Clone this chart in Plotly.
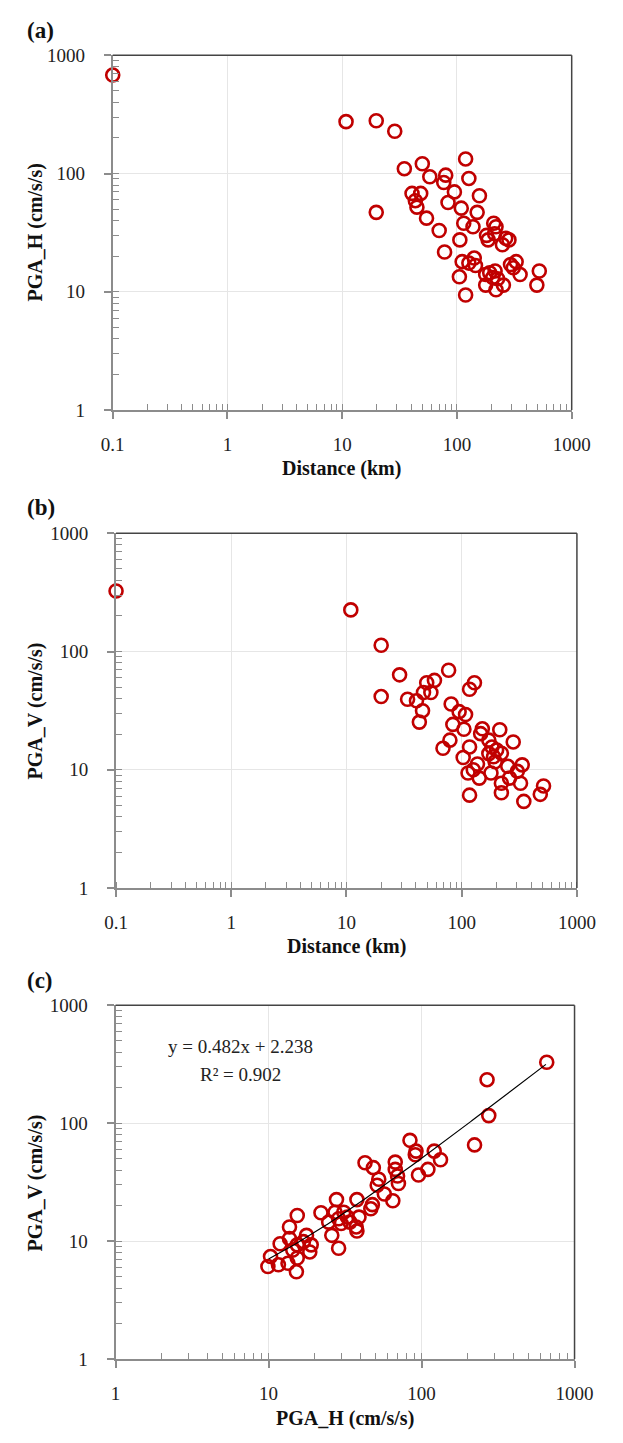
import numpy as np
import plotly.graph_objects as go

# ---------------- data ----------------
a_dist = [0.1, 10.8, 19.8, 28.7, 34.8, 49.9, 58, 79.8, 76.7, 119, 127, 40.6, 48.3, 43.4, 44.8,
          54.3, 19.8, 83.6, 95, 109, 157, 150, 70, 114.6, 138, 209, 219, 181, 187, 213,
          266, 284, 249, 106, 78, 111, 127, 141.5, 145, 105, 119, 178, 193, 215, 205,
          226, 178, 219, 254, 293, 328, 310, 355, 522, 497]
a_pgah = [681, 275, 280, 228, 110, 121, 94, 97, 84, 133, 91, 68, 68, 59, 52,
          42, 47, 57, 70, 51, 65, 47, 33, 38, 35.5, 38, 35.5, 30, 27.5, 31,
          28.4, 27.5, 25, 27.5, 21.7, 18, 17.5, 19.3, 16.7, 13.4, 9.4, 14, 14.5, 15, 13.2,
          12.9, 11.4, 10.4, 11.4, 17, 18, 16, 14, 15, 11.4]

b_dist = [0.1, 10.9, 20, 28.9, 20, 77, 49.7, 58, 54, 46.6, 33.9, 40.5, 45.7, 42.9, 129,
          117, 81, 95, 108, 83.8, 104.5, 79, 68.8, 117, 151, 146, 214, 280, 172, 183,
          201, 189, 221, 103, 137, 113.5, 126, 142, 179.5, 251, 335, 304, 260, 324, 221,
          221, 117, 346, 513, 481, 172, 195]
b_pgav = [325, 225, 113, 63.5, 41.6, 69.5, 54.5, 57, 45, 45, 39.5, 38.3, 31.6, 25.3, 54.5,
          48, 36, 31, 29.3, 24.2, 22, 17.8, 15.2, 15.6, 22.2, 20.2, 21.8, 17.2, 17.8, 15.6,
          14.7, 12.9, 13.8, 12.7, 11.2, 9.4, 10, 8.5, 9.4, 10.7, 11, 9.7, 8.5, 7.7, 7.7,
          6.4, 6.1, 5.4, 7.3, 6.2, 13.7, 11.7]

c_pgah = [658, 268, 275, 222, 84, 92, 91, 121, 133, 110, 95.5, 42.7, 48.4, 67.3, 67.3,
          52.5, 51.3, 70.6, 57.1, 64.9, 47.7, 37.8, 27.8, 22, 27.2, 31, 39, 34, 37.4, 37.8,
          28.7, 25.9, 28.7, 15.4, 13.7, 11.9, 17.7, 16.9, 19, 18.6, 15.4, 14.4, 10.3, 11.6,
          9.9, 13.4, 15.4, 15.2, 13.7, 24.7, 29.8, 32.7, 69.7, 46.6]
c_pgav = [329, 234, 116, 65.5, 71.6, 58, 54, 58, 49, 40.6, 36.4, 46.2, 42, 46.8, 40.6,
          33.5, 29.8, 30.8, 25.1, 22, 20.4, 22.5, 22.5, 17.4, 17.6, 17.6, 16, 14.5, 13.2, 12.2,
          15.5, 11.2, 8.7, 16.5, 13.2, 9.5, 11.2, 9.9, 9.3, 8.1, 9.3, 8.4, 7.4, 6.3,
          6.1, 6.5, 7.2, 5.5, 10.5, 14.5, 14.1, 16, 35.7, 18.8]

fit_slope = 0.482
fit_intercept = 2.238
fit_r2 = 0.902
fit_x_range = [10, 650]

dist_ticks = [0.1, 1, 10, 100, 1000]
dist_ticktext = ["0.1", "1", "10", "100", "1000"]
pga_ticks = [1, 10, 100, 1000]
pga_ticktext = ["1", "10", "100", "1000"]

# ---------------- layout helpers ----------------
W, H = 623, 1443
RED = "#C00000"
FONT = "Liberation Serif, Times New Roman, serif"


def xd(l, r):
    return [l / W, r / W]


def yd(top, bottom):
    return [1 - bottom / H, 1 - top / H]


panels = {
    "a": dict(x=xd(106, 589), y=yd(46, 406)),
    "b": dict(x=xd(109.5, 594.5), y=yd(531, 891)),
    "c": dict(x=xd(109, 592), y=yd(1010, 1369)),
}

fig = go.Figure()

marker = dict(symbol="circle-open", size=13, color=RED, line=dict(width=2.6, color=RED))

fig.add_trace(go.Scatter(x=a_dist, y=a_pgah, mode="markers", marker=marker,
                         xaxis="x", yaxis="y", cliponaxis=False, showlegend=False))
fig.add_trace(go.Scatter(x=b_dist, y=b_pgav, mode="markers", marker=marker,
                         xaxis="x2", yaxis="y2", cliponaxis=False, showlegend=False))
fig.add_trace(go.Scatter(x=c_pgah, y=c_pgav, mode="markers", marker=marker,
                         xaxis="x3", yaxis="y3", cliponaxis=False, showlegend=False))

fx = np.geomspace(fit_x_range[0], fit_x_range[1], 200)
fy = fit_slope * fx + fit_intercept
fig.add_trace(go.Scatter(x=fx, y=fy, mode="lines", line=dict(color="black", width=1.2),
                         xaxis="x3", yaxis="y3", showlegend=False))

tickfont = dict(family=FONT, size=19, color="#222222")
AXC = "#8c8c8c"


def axis(domain, anchor, rng, tvals, ttext, standoff):
    return dict(
        type="log", domain=domain, anchor=anchor, range=rng,
        tickmode="array", tickvals=tvals, ticktext=ttext,
        ticks="outside", ticklen=7, tickwidth=1.5, tickcolor=AXC,
        minor=dict(dtick="D1", ticks="inside", ticklen=6, tickwidth=1.2, tickcolor=AXC, showgrid=False),
        showline=True, linecolor=AXC, linewidth=2,
        showgrid=True, gridcolor="#e6e6e6", gridwidth=1,
        zeroline=False, tickfont=tickfont, ticklabelstandoff=standoff,
    )


XS, YS = 9, 15
layout = dict(
    width=W, height=H, margin=dict(l=0, r=0, t=0, b=0),
    paper_bgcolor="white", plot_bgcolor="white",
    xaxis=axis(panels["a"]["x"], "y", [-1, 3], dist_ticks, dist_ticktext, XS),
    yaxis=axis(panels["a"]["y"], "x", [0, 3], pga_ticks, pga_ticktext, YS),
    xaxis2=axis(panels["b"]["x"], "y2", [-1, 3], dist_ticks, dist_ticktext, XS),
    yaxis2=axis(panels["b"]["y"], "x2", [0, 3], pga_ticks, pga_ticktext, YS),
    xaxis3=axis(panels["c"]["x"], "y3", [0, 3], pga_ticks, pga_ticktext, XS),
    yaxis3=axis(panels["c"]["y"], "x3", [0, 3], pga_ticks, pga_ticktext, YS),
)
fig.update_layout(**layout)

shapes = []
for xr, yr in [("x", "y"), ("x2", "y2"), ("x3", "y3")]:
    shapes.append(dict(type="line", xref=f"{xr} domain", yref=f"{yr} domain",
                       x0=0, x1=1, y0=1, y1=1, line=dict(color="#444444", width=1.5)))
    shapes.append(dict(type="line", xref=f"{xr} domain", yref=f"{yr} domain",
                       x0=1, x1=1, y0=0, y1=1, line=dict(color="#444444", width=1.5)))
fig.update_layout(shapes=shapes)

titlefont = dict(family=FONT, size=20, color="#111111")
labfont = dict(family=FONT, size=23, color="#111111")


def ann(text, x, y, font, angle=0, xanchor="center"):
    fig.add_annotation(text=text, x=x / W, y=1 - y / H, xref="paper", yref="paper",
                       showarrow=False, font=font, textangle=angle,
                       xanchor=xanchor, yanchor="middle")


ann("<b>(a)</b>", 14, 21, labfont, xanchor="left")
ann("<b>(b)</b>", 14, 505, labfont, xanchor="left")
ann("<b>(c)</b>", 14, 985, labfont, xanchor="left")

ann("<b>Distance (km)</b>", 347, 465, titlefont)
ann("<b>Distance (km)</b>", 352, 950, titlefont)
ann("<b>PGA_H (cm/s/s)</b>", 350, 1429, titlefont)

ann("<b>PGA_H (cm/s/s)</b>", 25, 226, titlefont, angle=-90)
ann("<b>PGA_V (cm/s/s)</b>", 25, 711, titlefont, angle=-90)
ann("<b>PGA_V (cm/s/s)</b>", 25, 1190, titlefont, angle=-90)

eqfont = dict(family=FONT, size=19, color="#222222")
ann(f"y = {fit_slope}x + {fit_intercept}", 240, 1052, eqfont)
ann(f"R² = {fit_r2}", 240, 1080, eqfont)

fig.write_html("out.html")
